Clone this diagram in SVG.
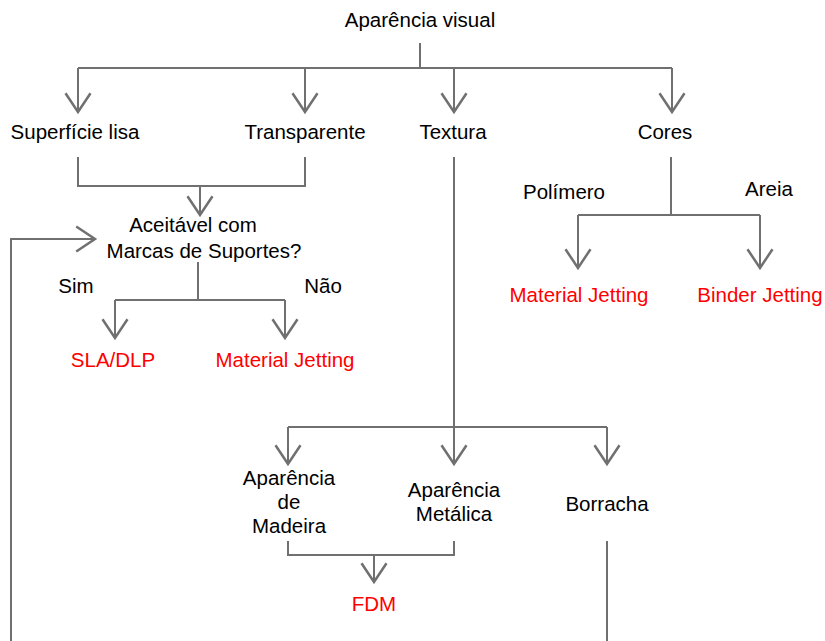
<svg xmlns="http://www.w3.org/2000/svg" width="825" height="641" viewBox="0 0 825 641">
<style>
text{font-family:"Liberation Sans",Arial,sans-serif;font-size:20.5px;fill:#000}
.r{fill:#ff0000}
.c{text-anchor:middle}
.ln{fill:none;stroke:#707070;stroke-width:2}
.a{marker-end:url(#ah)}
</style>
<defs>
<marker id="ah" markerUnits="userSpaceOnUse" markerWidth="30" markerHeight="30" viewBox="-16 -12 18 24" refX="0" refY="0" orient="auto" overflow="visible">
<path d="M-15,-10 L0,0 L-15,10" fill="none" stroke="#707070" stroke-width="2"/>
</marker>
</defs>
<g id="connectors">
<path class="ln" d="M420,43 V68 M78,68 H672"/>
<path class="ln a" d="M78,68 V112"/>
<path class="ln a" d="M305,68 V112"/>
<path class="ln a" d="M454,68 V112"/>
<path class="ln a" d="M672,68 V112"/>
<path class="ln" d="M78,157 V186 H305 V157"/>
<path class="ln a" d="M200,186 V215"/>
<path class="ln a" d="M11,641 V239 H95"/>
<path class="ln" d="M198,262 V300 M115,300 H285"/>
<path class="ln a" d="M115,300 V338"/>
<path class="ln a" d="M285,300 V338"/>
<path class="ln" d="M671,157 V215 M578,215 H760"/>
<path class="ln a" d="M578,215 V268"/>
<path class="ln a" d="M760,215 V268"/>
<path class="ln" d="M454,157 V427 M288,427 H607"/>
<path class="ln a" d="M288,427 V464"/>
<path class="ln a" d="M454,427 V464"/>
<path class="ln a" d="M607,427 V464"/>
<path class="ln" d="M288,541 V555 H454 V541"/>
<path class="ln a" d="M374,555 V582"/>
<path class="ln" d="M607,541 V641"/>
</g>
<g id="n-aparencia"><text class="c" x="420" y="27">Aparência visual</text></g>
<g id="n-superficie"><text class="c" x="75" y="139">Superfície lisa</text></g>
<g id="n-transparente"><text class="c" x="305" y="139">Transparente</text></g>
<g id="n-textura"><text class="c" x="453" y="139">Textura</text></g>
<g id="n-cores"><text class="c" x="665" y="139">Cores</text></g>
<g id="n-aceitavel"><text class="c" x="193" y="232">Aceitável com</text><text class="c" x="204" y="258">Marcas de Suportes?</text></g>
<g id="l-sim"><text class="c" x="76" y="293">Sim</text></g>
<g id="l-nao"><text class="c" x="323" y="293">Não</text></g>
<g id="n-sla"><text class="r c" x="113" y="367">SLA/DLP</text></g>
<g id="n-mj1"><text class="r c" x="285" y="367">Material Jetting</text></g>
<g id="l-polimero"><text class="c" x="564" y="199">Polímero</text></g>
<g id="l-areia"><text class="c" x="769" y="196">Areia</text></g>
<g id="n-mj2"><text class="r c" x="579" y="302">Material Jetting</text></g>
<g id="n-binder"><text class="r c" x="760" y="302">Binder Jetting</text></g>
<g id="n-madeira"><text class="c" x="289" y="485">Aparência</text><text class="c" x="289" y="509">de</text><text class="c" x="289" y="533">Madeira</text></g>
<g id="n-metalica"><text class="c" x="454" y="497">Aparência</text><text class="c" x="454" y="521">Metálica</text></g>
<g id="n-borracha"><text class="c" x="607" y="511">Borracha</text></g>
<g id="n-fdm"><text class="r c" x="374" y="611">FDM</text></g>
</svg>
